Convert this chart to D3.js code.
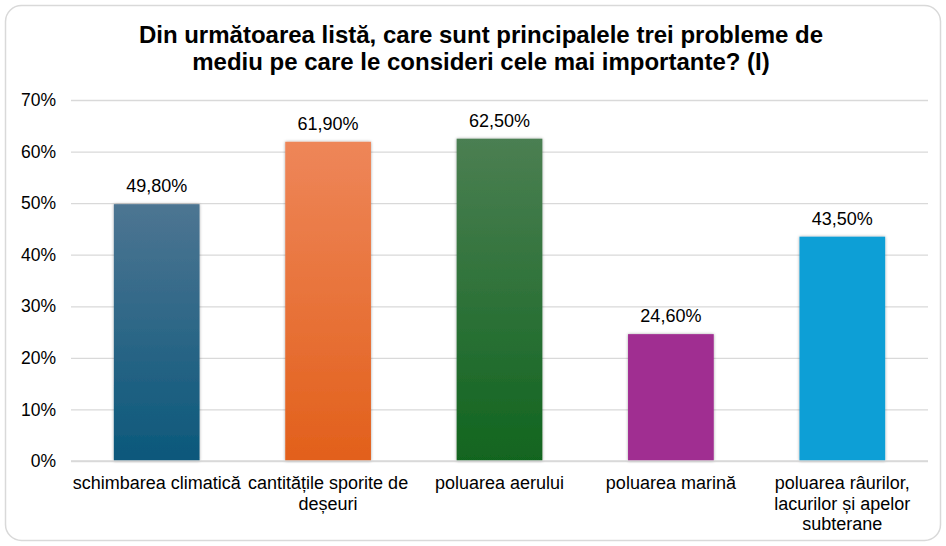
<!DOCTYPE html>
<html>
<head>
<meta charset="utf-8">
<script src="https://cdn.jsdelivr.net/npm/d3@7"></script>
<style>
  body { margin: 0; background: #fff; }
  text { font-family: "Liberation Sans", Arial, sans-serif; }
</style>
</head>
<body>
<div id="chart"></div>
<script>
var width = 946
var height = 546

// data
var categories = ["schimbarea climatică", "cantitățile sporite de\ndeșeuri", "poluarea aerului", "poluarea marină", "poluarea râurilor,\nlacurilor și apelor\nsubterane"]
var values = [49.8, 61.9, 62.5, 24.6, 43.5]
var valueLabels = ["49,80%", "61,90%", "62,50%", "24,60%", "43,50%"]
var yTicks = [0, 10, 20, 30, 40, 50, 60, 70]
var titleLines = ["Din următoarea listă, care sunt principalele trei probleme de", "mediu pe care le consideri cele mai importante? (I)"]

// top / bottom colours for each bar (last two are flat)
var colorTop = ["#4d7592", "#ee8659", "#4b7f52", "#a02d91", "#119fd6"]
var colorBottom = ["#0b587b", "#e2601b", "#11651f", "#a02d91", "#119fd6"]

var plot = { left: 71, right: 928, top: 100, bottom: 461 }

const svg = d3.select("#chart")
    .append("svg")
    .attr("width", width)
    .attr("height", height)

var defs = svg.append("defs")
colorTop.forEach((c, i) => {
    var g = defs.append("linearGradient")
        .attr("id", "grad" + i)
        .attr("x1", 0).attr("y1", 0).attr("x2", 0).attr("y2", 1)
    g.append("stop").attr("offset", "0%").attr("stop-color", c)
    g.append("stop").attr("offset", "100%").attr("stop-color", colorBottom[i])
})
var shadow = defs.append("filter").attr("id", "shadow")
    .attr("x", "-20%").attr("y", "-20%").attr("width", "140%").attr("height", "140%")
shadow.append("feDropShadow")
    .attr("dx", 0).attr("dy", 0).attr("stdDeviation", 1.5)
    .attr("flood-color", "#000").attr("flood-opacity", 0.35)

// outer border
svg.append("rect")
    .attr("x", 5.5).attr("y", 5.5)
    .attr("width", width - 11).attr("height", height - 11)
    .attr("rx", 16)
    .attr("fill", "#fff")
    .attr("stroke", "#d9d9d9")
    .attr("stroke-width", 1.5)

// title
svg.append("text")
    .attr("x", 481)
    .attr("text-anchor", "middle")
    .style("font-size", "24px")
    .style("font-weight", "bold")
    .attr("fill", "#000")
    .selectAll("tspan")
    .data(titleLines)
    .join("tspan")
    .attr("x", 481)
    .attr("y", (d, i) => 43 + i * 27)
    .text(d => d)

var x = d3.scaleBand()
    .domain(categories)
    .range([plot.left, plot.right])
    .paddingInner(0.5)
    .paddingOuter(0.25)

var y = d3.scaleLinear()
    .domain([0, 70])
    .range([plot.bottom, plot.top])

// gridlines + y labels
var y_axis = d3.axisLeft(y)
    .tickValues(yTicks)
    .tickSize(-(plot.right - plot.left))
    .tickFormat(d => d + "%")

var yg = svg.append("g")
    .attr("transform", "translate(" + plot.left + ",0)")
    .call(y_axis)
yg.select(".domain").remove()
yg.selectAll(".tick line").attr("stroke", "#d9d9d9").attr("stroke-width", 1.3)
yg.selectAll(".tick text")
    .style("font-size", "17.5px")
    .attr("fill", "#000")
    .attr("x", -15)

// bars
svg.append("g")
    .selectAll("rect")
    .data(values)
    .join("rect")
    .attr("x", (d, i) => x(categories[i]))
    .attr("y", d => y(d))
    .attr("width", x.bandwidth())
    .attr("height", d => y(0) - y(d))
    .attr("fill", (d, i) => "url(#grad" + i + ")")
    .attr("filter", "url(#shadow)")

// value labels
svg.append("g")
    .selectAll("text")
    .data(values)
    .join("text")
    .attr("x", (d, i) => x(categories[i]) + x.bandwidth() / 2)
    .attr("y", d => y(d) - 12)
    .attr("text-anchor", "middle")
    .style("font-size", "18px")
    .attr("fill", "#000")
    .text((d, i) => valueLabels[i])

// baseline
svg.append("line")
    .attr("x1", plot.left).attr("x2", plot.right)
    .attr("y1", y(0)).attr("y2", y(0))
    .attr("stroke", "#d9d9d9")
    .attr("stroke-width", 1.3)

// category labels
var xl = svg.append("g")
    .selectAll("text")
    .data(categories)
    .join("text")
    .attr("text-anchor", "middle")
    .style("font-size", "18px")
    .attr("fill", "#000")
xl.selectAll("tspan")
    .data(d => d.split("\n").map(t => ({ t: t, c: d })))
    .join("tspan")
    .attr("x", d => x(d.c) + x.bandwidth() / 2)
    .attr("y", (d, i) => 489 + i * 20.5)
    .text(d => d.t)
</script>
</body>
</html>
